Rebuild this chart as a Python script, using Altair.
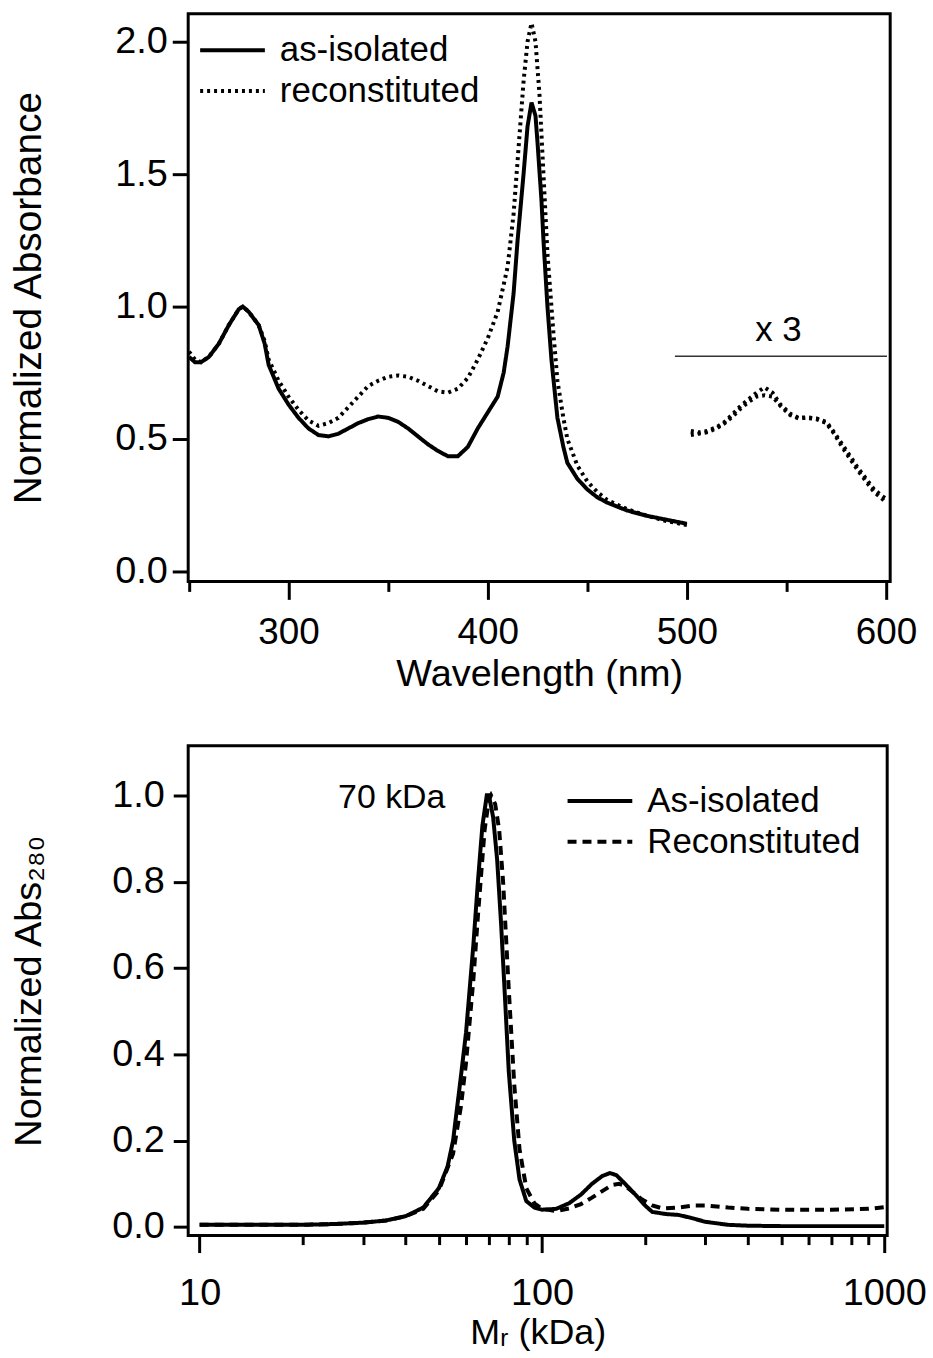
import altair as alt
import pandas as pd

FONT = "Liberation Sans"

# ---------------- top panel: UV-vis spectra ----------------
uv_series = ["as-isolated", "reconstituted"]

wl_iso = [250, 253, 256, 260, 265, 270, 275, 277, 280, 283,
          285, 288, 290, 295, 300, 305, 310, 315, 320, 325,
          330, 335, 340, 345, 350, 355, 360, 365, 370, 375,
          380, 385, 390, 395, 400, 405, 408, 410, 413, 415,
          418, 420, 422, 424, 425, 427, 428, 430, 432, 435,
          438, 440, 445, 450, 455, 460, 470, 480, 490, 500]
abs_iso = [0.81, 0.79, 0.79, 0.81, 0.86, 0.93, 0.99, 1.00, 0.98, 0.95,
           0.93, 0.86, 0.78, 0.69, 0.63, 0.58, 0.54, 0.515, 0.51, 0.52,
           0.54, 0.56, 0.575, 0.585, 0.58, 0.565, 0.54, 0.51, 0.48, 0.455,
           0.435, 0.435, 0.47, 0.54, 0.60, 0.66, 0.75, 0.85, 1.05, 1.25,
           1.5, 1.68, 1.77, 1.72, 1.62, 1.4, 1.25, 1.0, 0.8, 0.58,
           0.47, 0.41, 0.35, 0.31, 0.28, 0.26, 0.23, 0.21, 0.195, 0.18]

wl_rec = [250, 253, 256, 260, 265, 270, 275, 277, 280, 283,
          285, 288, 290, 295, 300, 305, 310, 315, 320, 325,
          330, 335, 340, 345, 350, 355, 360, 365, 370, 375,
          380, 385, 390, 395, 400, 405, 410, 413, 415, 418,
          420, 422, 424, 426, 428, 430, 433, 435, 438, 440,
          445, 450, 455, 460, 470, 480, 490, 500]
abs_rec = [0.83, 0.80, 0.79, 0.81, 0.86, 0.93, 0.99, 1.00, 0.98, 0.95,
           0.93, 0.87, 0.80, 0.72, 0.66, 0.61, 0.57, 0.55, 0.56, 0.58,
           0.62, 0.66, 0.70, 0.72, 0.735, 0.74, 0.735, 0.72, 0.70, 0.68,
           0.675, 0.69, 0.73, 0.80, 0.88, 0.98, 1.15, 1.35, 1.55, 1.85,
           2.0, 2.07, 2.0, 1.8, 1.5, 1.2, 0.9, 0.72, 0.58, 0.50,
           0.40, 0.34, 0.30, 0.27, 0.235, 0.21, 0.19, 0.175]

# x3 magnified visible region
x3_wl = [502, 506, 510, 515, 519, 523, 527, 531, 535, 539, 543, 547, 552,
         556, 560, 565, 570, 574, 578, 582, 586, 590, 594, 598, 600]
x3_rec = [0.53, 0.525, 0.53, 0.545, 0.565, 0.594, 0.625, 0.65, 0.675, 0.695,
          0.675, 0.63, 0.595, 0.58, 0.582, 0.578, 0.565, 0.525, 0.48, 0.435,
          0.39, 0.35, 0.31, 0.285, 0.275]
x3_iso = [0.515, 0.52, 0.525, 0.54, 0.56, 0.585, 0.615, 0.64, 0.66, 0.665,
          0.66, 0.625, 0.59, 0.578, 0.58, 0.575, 0.56, 0.52, 0.47, 0.425,
          0.38, 0.34, 0.30, 0.275, 0.26]

x3_label = "x 3"
x3_line = {"start": 494, "end": 600.5, "level": 0.812}
x3_text = {"wl": 546, "level": 0.913}

uv_ticks = [250, 300, 350, 400, 450, 500, 550, 600]
uv_yticks = [0.0, 0.5, 1.0, 1.5, 2.0]

# ---------------- bottom panel: SEC ----------------
sec_series = ["As-isolated", "Reconstituted"]

m_iso = [10, 15, 20, 25, 30, 35, 40, 45, 50, 53,
         55, 58, 60, 63, 65, 67, 69, 70, 72, 74,
         76, 78, 80, 83, 86, 90, 95, 100, 110, 120,
         130, 140, 150, 158, 165, 175, 190, 200, 210, 230,
         250, 270, 300, 350, 400, 500, 700, 1000]
a_iso = [0.005, 0.005, 0.005, 0.007, 0.01, 0.015, 0.025, 0.045, 0.09, 0.14,
         0.2, 0.35, 0.45, 0.65, 0.8, 0.93, 1.0, 1.0, 0.95, 0.85,
         0.7, 0.53, 0.36, 0.2, 0.11, 0.06, 0.045, 0.04, 0.042, 0.055,
         0.075, 0.1, 0.118, 0.125, 0.12, 0.1, 0.07, 0.05, 0.035, 0.03,
         0.028, 0.022, 0.012, 0.005, 0.003, 0.002, 0.002, 0.002]

m_rec = [10, 15, 20, 25, 30, 35, 40, 45, 50, 55,
         58, 60, 63, 65, 68, 70, 71, 73, 75, 77,
         80, 83, 86, 90, 95, 100, 110, 120, 130, 140,
         150, 160, 168, 175, 185, 195, 210, 225, 250, 280,
         300, 350, 400, 500, 700, 900, 1000]
a_rec = [0.005, 0.005, 0.005, 0.007, 0.01, 0.015, 0.025, 0.042, 0.085, 0.17,
         0.28, 0.38, 0.57, 0.72, 0.92, 0.99, 1.0, 0.98, 0.92, 0.8,
         0.55, 0.33, 0.18, 0.09, 0.055, 0.042, 0.037, 0.043, 0.053, 0.068,
         0.083, 0.097, 0.1, 0.095, 0.08, 0.065, 0.05, 0.043, 0.045, 0.05,
         0.05, 0.045, 0.042, 0.04, 0.04, 0.042, 0.046]

peak_label = "70 kDa"
peak_pos = {"m": 36.4, "level": 0.994}

sec_ticks = [10, 20, 30, 40, 50, 60, 70, 80, 90,
             100, 200, 300, 400, 500, 600, 700, 800, 900, 1000]
sec_yticks = [0.0, 0.2, 0.4, 0.6, 0.8, 1.0]

# ---------------- build tables ----------------
uv_df = pd.concat([
    pd.DataFrame({"wl": wl_iso, "absv": abs_iso, "series": uv_series[0]}),
    pd.DataFrame({"wl": wl_rec, "absv": abs_rec, "series": uv_series[1]}),
])
x3_df = pd.concat([
    pd.DataFrame({"wl": x3_wl, "absv": x3_iso, "series": "iso x3"}),
    pd.DataFrame({"wl": x3_wl, "absv": x3_rec, "series": "rec x3"}),
])
x3_rule_df = pd.DataFrame({"wl": [x3_line["start"]], "wl2": [x3_line["end"]],
                           "absv": [x3_line["level"]]})
x3_text_df = pd.DataFrame({"wl": [x3_text["wl"]], "absv": [x3_text["level"]],
                           "label": [x3_label]})

sec_df = pd.concat([
    pd.DataFrame({"m": m_iso, "a": a_iso, "series": sec_series[0]}),
    pd.DataFrame({"m": m_rec, "a": a_rec, "series": sec_series[1]}),
])
peak_df = pd.DataFrame({"m": [peak_pos["m"]], "a": [peak_pos["level"]],
                        "label": [peak_label]})

DOT = [3, 4]
DASH = [9, 6]
LW = 4


def legend(x, y):
    # horizontal line symbol: custom path scaled by sqrt(size)/2 = 10 -> 65 px long
    return alt.Legend(
        title=None, orient="none", legendX=x, legendY=y,
        symbolType="M-3.25,0H3.25", symbolSize=400, symbolStrokeWidth=LW,
        symbolStrokeColor="black", symbolFillColor="transparent",
        labelFont=FONT, labelFontSize=35,
        labelColor="black", labelOffset=30, rowPadding=5, padding=0,
        labelLimit=0,
    )


# ---------------- top chart ----------------
uv_x = alt.X(
    "wl:Q",
    scale=alt.Scale(domain=[249.6, 602.1], nice=False, zero=False),
    axis=alt.Axis(
        title="Wavelength (nm)", values=uv_ticks,
        labelExpr="datum.value % 100 === 0 ? datum.label : ''",
        tickSize={"condition": {"test": "datum.value % 100 === 0", "value": 18}, "value": 10},
        labelFontSize=37, titleFontSize=38, labelPadding=15, titlePadding=6,
    ),
)
uv_y = alt.Y(
    "absv:Q",
    scale=alt.Scale(domain=[-0.0376, 2.105], nice=False, zero=False),
    axis=alt.Axis(
        title="Normalized Absorbance", values=uv_yticks, format=".1f",
        tickSize=16, labelFontSize=38, titleFontSize=39,
        labelPadding=5, titlePadding=67,
    ),
)

uv_lines = alt.Chart(uv_df).mark_line(color="black", strokeWidth=LW).encode(
    x=uv_x, y=uv_y,
    strokeDash=alt.StrokeDash(
        "series:N",
        scale=alt.Scale(domain=uv_series, range=[[1, 0], DOT]),
        legend=legend(27, 19),
    ),
)
uv_x3 = alt.Chart(x3_df).mark_line(color="black", strokeWidth=LW, strokeDash=DOT).encode(
    x="wl:Q", y="absv:Q", detail="series:N"
)
uv_rule = alt.Chart(x3_rule_df).mark_rule(color="#333333", strokeWidth=1.5).encode(
    x="wl:Q", x2="wl2:Q", y="absv:Q"
)
uv_text = alt.Chart(x3_text_df).mark_text(font=FONT, fontSize=35, color="black").encode(
    x="wl:Q", y="absv:Q", text="label:N"
)

top = alt.layer(uv_lines, uv_x3, uv_rule, uv_text).properties(width=705, height=570)

# ---------------- bottom chart ----------------
sec_x = alt.X(
    "m:Q",
    scale=alt.Scale(type="log", domain=[9.259, 1020], nice=False),
    axis=alt.Axis(
        title="Mᵣ (kDa)", values=sec_ticks,
        labelExpr="(datum.value == 10 || datum.value == 100 || datum.value == 1000) ? datum.label : ''",
        format="d",
        tickSize={"condition": {"test": "datum.value == 10 || datum.value == 100 || datum.value == 1000",
                                "value": 17}, "value": 9},
        labelFontSize=38, titleFontSize=36, labelPadding=22, titlePadding=3,
    ),
)
sec_y = alt.Y(
    "a:Q",
    scale=alt.Scale(domain=[-0.02, 1.115], nice=False, zero=False),
    axis=alt.Axis(
        title="Normalized Abs₂₈₀", values=sec_yticks, format=".1f",
        tickSize=15, labelFontSize=38, titleFontSize=38,
        labelPadding=9, titlePadding=64,
    ),
)

sec_lines = alt.Chart(sec_df).mark_line(color="black", strokeWidth=LW).encode(
    x=sec_x, y=sec_y,
    strokeDash=alt.StrokeDash(
        "series:N",
        scale=alt.Scale(domain=sec_series, range=[[1, 0], DASH]),
        legend=legend(396, 38),
    ),
)
sec_text = alt.Chart(peak_df).mark_text(font=FONT, fontSize=34, color="black").encode(
    x="m:Q", y="a:Q", text="label:N"
)

bottom = alt.layer(sec_lines, sec_text).properties(width=702, height=492)

chart = alt.vconcat(top, bottom, spacing=48).resolve_scale(
    strokeDash="independent"
).properties(
    padding={"left": 7, "top": 9, "right": 5, "bottom": 5},
    background="white",
).configure_view(stroke="black", strokeWidth=3).configure_axis(
    labelFont=FONT, titleFont=FONT, labelColor="black", titleColor="black",
    tickColor="black", tickWidth=3, domain=False, grid=False,
    titleFontWeight="normal",
)

chart.save("out.html", embed_options={"renderer": "svg", "actions": False})
